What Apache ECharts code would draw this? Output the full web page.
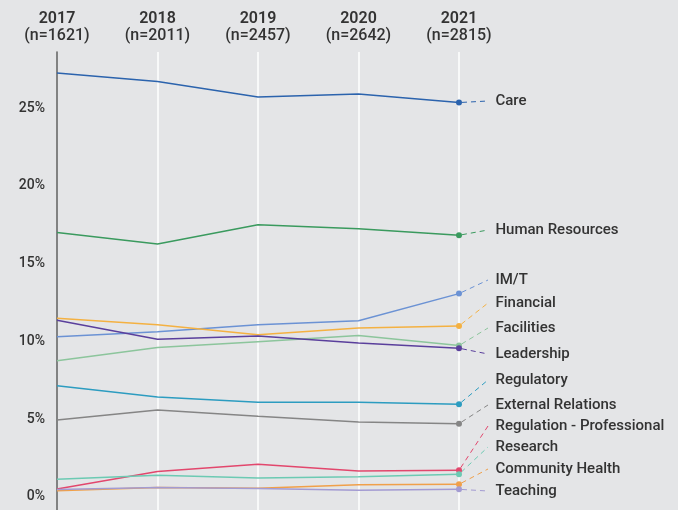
<!DOCTYPE html>
<html>
<head>
<meta charset="utf-8">
<script src="https://cdn.jsdelivr.net/npm/echarts@6/dist/echarts.min.js"></script>
<style>
  html, body { margin: 0; padding: 0; background: #e4e5e7; }
  #chart { width: 678px; height: 510px; }
</style>
</head>
<body>
<div id="chart"></div>
<script>
// Survey years and number of responses per year
const years = ['2017', '2018', '2019', '2020', '2021'];
const sampleSizes = [1621, 2011, 2457, 2642, 2815];
const yTickValues = [0, 5, 10, 15, 20, 25];

// Share of responses per theme (%)
const categories = [
  'Care', 'Human Resources', 'IM/T', 'Financial', 'Facilities', 'Leadership',
  'Regulatory', 'External Relations', 'Regulation - Professional', 'Research',
  'Community Health', 'Teaching'
];
const care              = [27.25, 26.7, 25.7, 25.9, 25.35];
const humanResources    = [17.0, 16.26, 17.5, 17.24, 16.82];
const imt               = [10.3, 10.62, 11.07, 11.33, 13.07];
const financial         = [11.48, 11.07, 10.43, 10.86, 10.99];
const facilities        = [8.76, 9.6, 9.98, 10.37, 9.73];
const leadership        = [11.36, 10.13, 10.35, 9.9, 9.56];
const regulatory        = [7.15, 6.43, 6.09, 6.09, 5.96];
const externalRelations = [4.95, 5.59, 5.19, 4.82, 4.71];
const regulationProf    = [0.51, 1.63, 2.1, 1.67, 1.71];
const research          = [1.14, 1.39, 1.22, 1.29, 1.46];
const communityHealth   = [0.39, 0.6, 0.56, 0.79, 0.81];
const teaching          = [0.47, 0.6, 0.54, 0.43, 0.49];

const seriesValues = [
  care, humanResources, imt, financial, facilities, leadership,
  regulatory, externalRelations, regulationProf, research, communityHealth, teaching
];

// Styling and label placement
const colors = [
  '#2b63ad', '#3a9a5e', '#6b92d4', '#f4b142', '#8cc59c', '#5a3f9c',
  '#2c9cc0', '#858585', '#e2476d', '#6ccab3', '#f0a04a', '#a39bd2'
];
const labelX = 488;
const labelY = [101, 230, 280, 303, 328, 354, 380, 405, 426, 447, 469, 491];
const textColor = '#333333';
const fontFamily = 'Roboto, "Liberation Sans", sans-serif';

const chart = echarts.init(document.getElementById('chart'), null, { renderer: 'canvas' });

const last = years.length - 1;

const series = categories.map((name, i) => ({
  name: name,
  type: 'line',
  data: seriesValues[i].map((v, j) => j === last
    ? { value: v, label: { show: true } }
    : v),
  color: colors[i],
  lineStyle: { width: 1.5, color: colors[i] },
  symbol: 'circle',
  showAllSymbol: true,
  symbolSize: (val, p) => (p.dataIndex === last ? 6 : 0),
  itemStyle: { color: colors[i] },
  label: {
    show: false,
    // leading spaces keep a small gap between the guide line and the text
    formatter: '  ' + name,
    color: textColor,
    fontFamily: fontFamily,
    fontSize: 15,
    fontWeight: 500
  },
  labelLine: {
    show: true,
    lineStyle: { color: colors[i], width: 1, type: [5, 4] }
  },
  labelLayout: () => ({
    x: labelX,
    y: labelY[i],
    align: 'left',
    verticalAlign: 'middle',
    hideOverlap: false
  }),
  emphasis: { disabled: true },
  animation: false
}));

chart.setOption({
  backgroundColor: '#e4e5e7',
  animation: false,
  grid: { left: 57, right: 219, top: 52, bottom: 0, containLabel: false },
  xAxis: {
    type: 'category',
    position: 'top',
    data: years,
    boundaryGap: false,
    axisLine: { show: false },
    axisTick: { show: false },
    splitLine: { show: true, lineStyle: { color: '#ffffff', width: 1.5 } },
    axisLabel: {
      margin: 8,
      interval: 0,
      formatter: (val, idx) => '{y|' + val + '}\n{n|(n=' + sampleSizes[idx] + ')}',
      rich: {
        y: { fontFamily: fontFamily, fontSize: 16, fontWeight: 600, color: textColor, lineHeight: 17 },
        n: { fontFamily: fontFamily, fontSize: 16, fontWeight: 500, color: textColor, lineHeight: 17 }
      }
    }
  },
  yAxis: {
    type: 'value',
    min: -0.84,
    max: 28.6,
    axisLine: { show: true, lineStyle: { color: '#5a5a5a', width: 1.5 } },
    axisTick: { show: false },
    splitLine: { show: false },
    axisLabel: {
      customValues: yTickValues,
      margin: 12,
      fontFamily: fontFamily,
      fontSize: 14,
      fontWeight: 500,
      color: textColor,
      formatter: v => v + '%'
    }
  },
  series: series
});
</script>
</body>
</html>
